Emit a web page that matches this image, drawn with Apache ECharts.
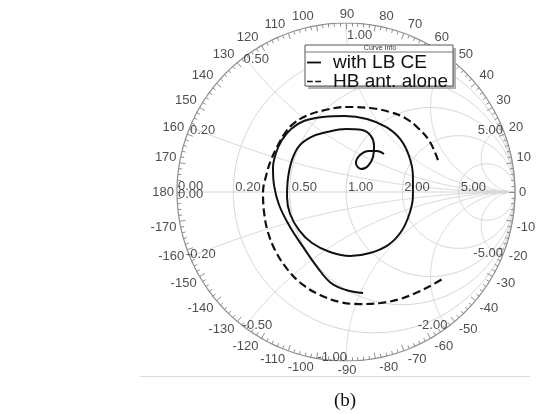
<!DOCTYPE html>
<html><head><meta charset="utf-8">
<script src="https://cdn.jsdelivr.net/npm/echarts@6/dist/echarts.min.js"></script>
<style>html,body{margin:0;padding:0;background:#fff}#c{width:538px;height:414px}</style>
</head><body><div id="c"></div>
<script>
// ---- data ----
const resistanceCircles = [0.2, 0.5, 1, 2, 5];
const reactanceArcs = [0.2, 0.5, 1, 2, 5, -0.2, -0.5, -1, -2, -5];
const realAxisValues = [0.2, 0.5, 1, 2, 5];
const realAxisLabels = ['0.20', '0.50', '1.00', '2.00', '5.00'];
const reactanceValues = [0.2, 0.5, 1, 2, 5, -0.2, -0.5, -1, -2, -5];
const reactanceLabels = ['0.20', '0.50', '1.00', '2.00', '5.00', '-0.20', '-0.50', '-1.00', '-2.00', '-5.00'];
const angleLabels = ['-170','-160','-150','-140','-130','-120','-110','-100','-90','-80','-70','-60','-50','-40','-30','-20','-10','0','10','20','30','40','50','60','70','80','90','100','110','120','130','140','150','160','170','180'];
const seriesNames = ['with LB CE', 'HB ant. alone'];
const solidRe = [0.101,0.000,-0.089,-0.166,-0.254,-0.331,-0.396,-0.426,-0.432,-0.414,-0.379,-0.325,-0.249,-0.136,-0.006,0.124,0.237,0.320,0.373,0.396,0.396,0.373,0.325,0.249,0.142,0.024,-0.095,-0.201,-0.278,-0.331,-0.349,-0.343,-0.320,-0.278,-0.207,-0.112,0.000,0.095,0.148,0.166,0.160,0.130,0.089,0.059,0.083,0.136,0.183,0.225];
const solidIm = [-0.598,-0.580,-0.538,-0.450,-0.325,-0.207,-0.077,0.041,0.142,0.231,0.308,0.373,0.420,0.444,0.450,0.432,0.385,0.314,0.213,0.095,-0.024,-0.136,-0.237,-0.314,-0.361,-0.379,-0.355,-0.302,-0.225,-0.130,-0.030,0.083,0.189,0.272,0.325,0.355,0.373,0.367,0.331,0.272,0.207,0.154,0.136,0.172,0.219,0.243,0.243,0.225];
const dashRe = [0.544,0.497,0.426,0.349,0.260,0.142,0.006,-0.124,-0.237,-0.314,-0.361,-0.402,-0.444,-0.473,-0.491,-0.485,-0.462,-0.414,-0.343,-0.254,-0.154,-0.036,0.083,0.201,0.320,0.426,0.509,0.580];
const dashIm = [0.189,0.296,0.379,0.438,0.473,0.497,0.503,0.485,0.450,0.402,0.349,0.278,0.189,0.095,0,-0.118,-0.237,-0.355,-0.462,-0.550,-0.609,-0.651,-0.663,-0.657,-0.633,-0.592,-0.550,-0.509];

// ---- geometry helpers ----
function rCircle(r) {
  const cx = r / (1 + r), rad = 1 / (1 + r), pts = [];
  for (let i = 0; i <= 360; i += 2) {
    const t = i * Math.PI / 180;
    pts.push([cx + rad * Math.cos(t), rad * Math.sin(t)]);
  }
  return pts;
}
function xArc(x) {
  const pts = [];
  for (let i = 0; i < 400; i++) {
    const r = Math.tan(i / 400 * Math.PI / 2);
    const d = (r + 1) * (r + 1) + x * x;
    pts.push([(r * r - 1 + x * x) / d, 2 * x / d]);
  }
  pts.push([1, 0]);
  return pts;
}
function edgePoint(x) { return [(x * x - 1) / (1 + x * x), 2 * x / (1 + x * x)]; }

const gridGray = '#d6d6d6';
const gridLines = [];
resistanceCircles.forEach(r => gridLines.push({ coords: rCircle(r) }));
reactanceArcs.forEach(x => gridLines.push({ coords: xArc(x) }));
gridLines.push({ coords: [[-1, 0], [1, 0]] });

const outer = [];
for (let i = 0; i <= 360; i++) { const t = i * Math.PI / 180; outer.push([Math.cos(t), Math.sin(t)]); }

const ticks = [];
for (let a = 0; a < 360; a += 2) {
  const t = a * Math.PI / 180, L = (a % 10 === 0) ? 6 / 169 : 3.5 / 169;
  ticks.push({ coords: [[Math.cos(t), Math.sin(t)], [(1 - L) * Math.cos(t), (1 - L) * Math.sin(t)]] });
}

const angleData = angleLabels.map(s => {
  const a = Number(s), t = a * Math.PI / 180, c = Math.cos(t), sn = Math.sin(t);
  const ac = Math.abs(c) < 0.01 ? 0 : Math.sign(c), as = Math.abs(sn) < 0.01 ? 0 : Math.sign(sn);
  return {
    name: s, value: [c, sn],
    label: { align: ac === 0 ? 'center' : (ac > 0 ? 'left' : 'right'),
             offset: [ac > 0 ? 4 : (ac < 0 ? -3 : 1), -as * (5 + 4 * Math.abs(sn))] }
  };
});

const reactOffsets = {
  '0.20': ['left', 0, 3], '0.50': ['left', -1, 3], '1.00': ['left', 1, 12], '2.00': ['right', 0, 3], '5.00': ['right', 1, 3],
  '-0.20': ['left', -4, -3], '-0.50': ['left', -2, -2], '-1.00': ['right', 1, -4], '-2.00': ['right', 0, -2], '-5.00': ['right', 1, -4]
};
const gridLabelData = [];
reactanceValues.forEach((x, i) => {
  const o = reactOffsets[reactanceLabels[i]];
  gridLabelData.push({ name: reactanceLabels[i], value: edgePoint(x), label: { align: o[0], offset: [o[1], o[2]] } });
});
realAxisValues.forEach((r, i) => {
  gridLabelData.push({ name: realAxisLabels[i], value: [(r - 1) / (r + 1), 0], label: { align: 'left', offset: [2, -5] } });
});
gridLabelData.push({ name: '0.00', value: [-1, 0], label: { align: 'left', offset: [1, -6] } });
gridLabelData.push({ name: '0.00', value: [-1, 0], label: { align: 'left', offset: [1, 2] } });

const zip = (a, b) => a.map((v, i) => [v, b[i]]);

const chart = echarts.init(document.getElementById('c'), null, { renderer: 'canvas' });
chart.setOption({
  animation: false,
  backgroundColor: '#fff',
  grid: { left: 177, top: 23, width: 338, height: 338 },
  xAxis: { type: 'value', min: -1, max: 1, show: false },
  yAxis: { type: 'value', min: -1, max: 1, show: false },
  title: { text: '(b)', left: 329, top: 387, textStyle: { fontFamily: 'Liberation Serif', fontSize: 19, fontWeight: 'normal', color: '#111' } },
  legend: {
    orient: 'vertical', left: 307, top: 53, padding: 0, itemGap: 0, itemWidth: 14, itemHeight: 2, z: 30,
    data: [
      { name: seriesNames[0], icon: 'path://M2,0h12v1.6h-12z' },
      { name: seriesNames[1], icon: 'path://M0,0h7v1.6h-7z M10,0h7v1.6h-7z' }
    ],
    itemStyle: { color: '#111' },
    textStyle: { fontFamily: 'Liberation Sans', fontSize: 19, lineHeight: 18, color: '#111', padding: [0, 0, 0, 7] }
  },
  graphic: [
    { type: 'rect', z: 20, shape: { x: 308, y: 48, width: 148, height: 41 }, style: { fill: '#b0b0b0' } },
    { type: 'rect', z: 21, shape: { x: 305, y: 45, width: 148, height: 41 }, style: { fill: '#fff', stroke: '#555', lineWidth: 1 } },
    { type: 'line', z: 22, shape: { x1: 305, y1: 52, x2: 453, y2: 52 }, style: { stroke: '#777', lineWidth: 1 } },
    { type: 'text', z: 22, x: 380, y: 48.5, style: { text: 'Curve Info', fontFamily: 'Liberation Sans', fontSize: 7, fill: '#333', textAlign: 'center', textVerticalAlign: 'middle' } },
    { type: 'line', z: 1, shape: { x1: 140, y1: 376.5, x2: 530, y2: 376.5 }, style: { stroke: '#dcdcdc', lineWidth: 1 } }
  ],
  series: [
    { type: 'lines', coordinateSystem: 'cartesian2d', polyline: true, silent: true, z: 1, data: gridLines,
      lineStyle: { color: gridGray, width: 1, opacity: 1 } },
    { type: 'lines', coordinateSystem: 'cartesian2d', polyline: true, silent: true, z: 2, data: [{ coords: outer }],
      lineStyle: { color: '#8f8f8f', width: 1.2, opacity: 1 } },
    { type: 'lines', coordinateSystem: 'cartesian2d', silent: true, z: 2, data: ticks,
      lineStyle: { color: '#8f8f8f', width: 1, opacity: 1 } },
    { type: 'scatter', silent: true, z: 3, symbolSize: 1, itemStyle: { color: 'rgba(0,0,0,0)' }, data: angleData,
      label: { show: true, position: 'inside', formatter: p => p.name, verticalAlign: 'middle', fontFamily: 'Liberation Sans', fontSize: 13, color: '#222' } },
    { type: 'scatter', silent: true, z: 3, symbolSize: 1, itemStyle: { color: 'rgba(0,0,0,0)' }, data: gridLabelData,
      label: { show: true, position: 'inside', formatter: p => p.name, verticalAlign: 'middle', fontFamily: 'Liberation Sans', fontSize: 13, color: '#222' } },
    { name: seriesNames[0], type: 'line', data: zip(solidRe, solidIm), showSymbol: false, symbol: 'none', smooth: 0.4, clip: false, z: 5,
      lineStyle: { color: '#111', width: 2 }, itemStyle: { color: '#111' } },
    { name: seriesNames[1], type: 'line', data: zip(dashRe, dashIm), showSymbol: false, symbol: 'none', smooth: 0.4, clip: false, z: 5,
      lineStyle: { color: '#111', width: 2.2, type: [8, 4] }, itemStyle: { color: '#111' } }
  ]
});
</script></body></html>
